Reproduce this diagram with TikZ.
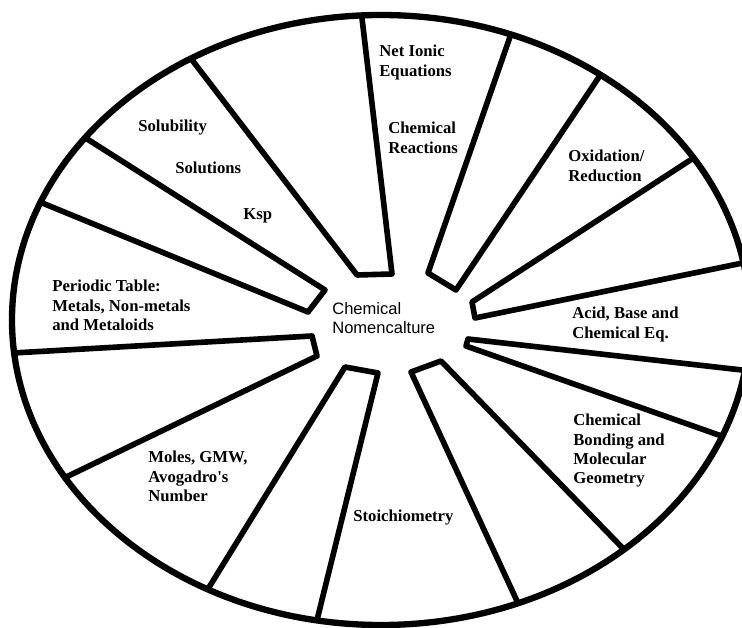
\documentclass[tikz,border=0pt]{standalone}
\usepackage{fontspec}
\setmainfont{Liberation Serif}
\setsansfont{Liberation Sans}
\usetikzlibrary{calc}

\begin{document}
\begin{tikzpicture}[line cap=round, line join=round,
  spoke/.style={line width=3.2pt},
  topic/.style={anchor=north west, align=left, inner sep=0pt,
    font=\bfseries\fontsize{9.5}{10.9}\selectfont}]

% cornice
\useasboundingbox (-7.62,-6.16) rectangle (7.22,6.4);
\coordinate (O) at (0,0);
\draw[line width=3.6pt] (O) ellipse [x radius=7.38, y radius=6.1];

% punti sul bordo
\coordinate (E1) at ($(O)+(93:7.38 and 6.1)$);
\coordinate (E2) at ($(O)+(121:7.38 and 6.1)$);
\coordinate (E3) at ($(O)+(143.3:7.38 and 6.1)$);
\coordinate (E4) at ($(O)+(157.3:7.38 and 6.1)$);
\coordinate (E5) at ($(O)+(186.2:7.38 and 6.1)$);
\coordinate (E6) at ($(O)+(211.1:7.38 and 6.1)$);
\coordinate (E7) at ($(O)+(242:7.38 and 6.1)$);
\coordinate (E8) at ($(O)+(260:7.38 and 6.1)$);
\coordinate (E9) at ($(O)+(291.8:7.38 and 6.1)$);
\coordinate (E10) at ($(O)+(311.2:7.38 and 6.1)$);
\coordinate (E11) at ($(O)+(337.6:7.38 and 6.1)$);
\coordinate (E12) at ($(O)+(350.5:7.38 and 6.1)$);
\coordinate (E13) at ($(O)+(10.8:7.38 and 6.1)$);
\coordinate (E14) at ($(O)+(32.1:7.38 and 6.1)$);
\coordinate (E15) at ($(O)+(53.5:7.38 and 6.1)$);
\coordinate (E16) at ($(O)+(69.4:7.38 and 6.1)$);

% punti interni
\coordinate (A1) at (-0.48,0.90);  \coordinate (B1) at (0.22,0.92);
\coordinate (A2) at (0.94,0.94);   \coordinate (B2) at (1.5,0.6);
\coordinate (A3) at (1.82,0.36);   \coordinate (B3) at (1.88,0.04);
\coordinate (A4) at (1.74,-0.38);  \coordinate (B4) at (1.7,-0.52);
\coordinate (A5) at (1.2,-0.82);   \coordinate (B5) at (0.6,-1.04);
\coordinate (A6) at (-0.06,-1.06); \coordinate (B6) at (-0.72,-0.94);
\coordinate (A7) at (-1.28,-0.72); \coordinate (B7) at (-1.38,-0.32);
\coordinate (A8) at (-1.46,0.16);  \coordinate (B8) at (-1.12,0.6);

% spicchi vuoti
\draw[spoke] (E2) -- (A1) -- (B1) -- (E1);
\draw[spoke] (E16) -- (A2) -- (B2) -- (E15);
\draw[spoke] (E14) -- (A3) -- (B3) -- (E13);
\draw[spoke] (E12) -- (A4) -- (B4) -- (E11);
\draw[spoke] (E10) -- (A5) -- (B5) -- (E9);
\draw[spoke] (E8) -- (A6) -- (B6) -- (E7);
\draw[spoke] (E6) -- (A7) -- (B7) -- (E5);
\draw[spoke] (E4) -- (A8) -- (B8) -- (E3);

% centro
\node[anchor=north west, align=left, inner sep=0pt,
  font=\sffamily\fontsize{9.4}{10.8}\selectfont] (nomen) at (-0.98,0.36)
  {Chemical\\Nomencalture};

% etichette
\node[topic] (netionic) at (-0.04,5.5) {Net Ionic\\Equations};
\node[topic] (reactions) at (0.14,3.96) {Chemical\\Reactions};
\node[topic] (redox) at (3.74,3.4) {Oxidation/\\Reduction};
\node[topic] (solub) at (-4.86,4.0) {Solubility};
\node[topic] (solut) at (-4.12,3.16) {Solutions};
\node[topic] (ksp) at (-2.76,2.24) {Ksp};
\node[topic] (periodic) at (-6.58,0.8) {Periodic Table:\\Metals, Non-metals\\and Metaloids};
\node[topic] (acid) at (3.82,0.26) {Acid, Base and\\Chemical Eq.};
\node[topic] (bonding) at (3.84,-1.88) {Chemical\\Bonding and\\Molecular\\Geometry};
\node[topic] (stoich) at (-0.56,-3.8) {Stoichiometry};
\node[topic] (moles) at (-4.66,-2.62) {Moles, GMW,\\Avogadro\textquotesingle s\\Number};

\end{tikzpicture}
\end{document}
